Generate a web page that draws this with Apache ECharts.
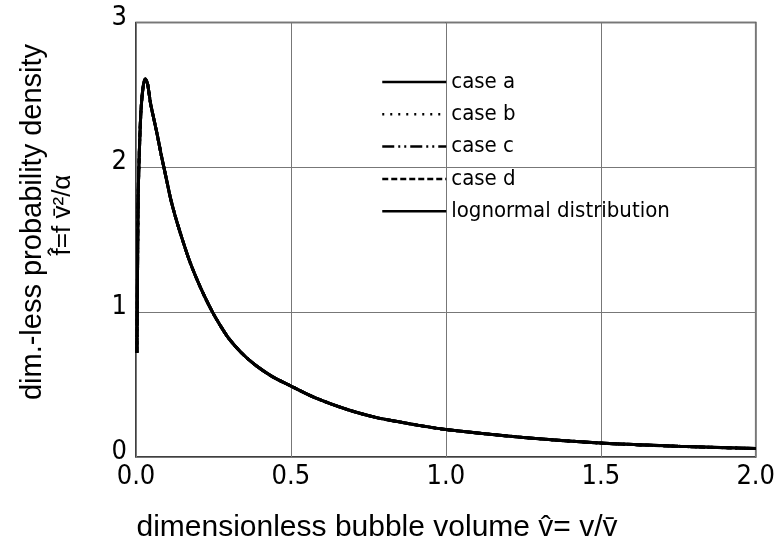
<!DOCTYPE html>
<html>
<head>
<meta charset="utf-8">
<script src="https://cdn.jsdelivr.net/npm/echarts@6/dist/echarts.min.js"></script>
<style>
  html, body { margin: 0; padding: 0; background: #fff; }
  #chart { width: 778px; height: 550px; }
</style>
</head>
<body>
<div id="chart"></div>
<script>
// 读图所得数据：横轴为无量纲气泡体积，纵轴为无量纲概率密度
const volume = [0.003, 0.005, 0.007, 0.010, 0.014, 0.018, 0.024, 0.030, 0.037, 0.047,
  0.058, 0.070, 0.080, 0.090, 0.100, 0.112, 0.127, 0.144, 0.17, 0.192, 0.22, 0.247,
  0.27, 0.299, 0.34, 0.385, 0.44, 0.5, 0.577, 0.684, 0.78, 0.844, 0.908, 1.0,
  1.25, 1.5, 1.75, 2.0];

// 四个算例与对数正态分布在图上完全重合，读出的数值相同
const density = [0.72, 1.3, 1.8, 2.05, 2.3, 2.45, 2.57, 2.61, 2.58, 2.44,
  2.33, 2.21, 2.10, 2.00, 1.90, 1.78, 1.66, 1.54, 1.37, 1.25, 1.115, 1.0,
  0.915, 0.82, 0.72, 0.635, 0.555, 0.49, 0.41, 0.326, 0.27, 0.245, 0.22, 0.19,
  0.135, 0.096, 0.074, 0.058];

const caseA = density;
const caseB = density;
const caseC = density;
const caseD = density;
const lognormal = density;

const legendNames = ['case a', 'case b', 'case c', 'case d', 'lognormal distribution'];
const yTicks = [0, 1, 2, 3];

const NUM_FONT = '"Liberation Sans Narrow", "DejaVu Sans Condensed", "Liberation Sans", sans-serif';
const TITLE_FONT = '"Liberation Sans", Arial, sans-serif';

function pairs(ys) {
  return volume.map((x, i) => [x, ys[i]]);
}

function lineSeries(name, ys, type) {
  return {
    name: name,
    type: 'line',
    data: pairs(ys),
    symbol: 'none',
    smooth: 0.3,
    lineStyle: { color: '#000', width: 3, type: type },
    itemStyle: { color: '#000' },
    z: 3,
  };
}

const chart = echarts.init(document.getElementById('chart'), null, { renderer: 'canvas' });

chart.setOption({
  animation: false,
  backgroundColor: '#fff',
  grid: { left: 136, right: 16, top: 22.5, bottom: 93, show: true, borderColor: '#000', borderWidth: 1.5, backgroundColor: 'transparent' },
  xAxis: {
    type: 'value',
    min: 0, max: 2, interval: 0.5,
    axisLine: { show: false },
    axisTick: { show: false },
    splitLine: { show: true, lineStyle: { color: '#777', width: 1 } },
    axisLabel: {
      fontFamily: NUM_FONT, fontSize: 27, color: '#000', margin: 6,
      formatter: v => v.toFixed(1),
    },
  },
  yAxis: {
    type: 'value',
    min: 0, max: 3, interval: 1,
    axisLine: { show: false },
    axisTick: { show: false },
    splitLine: { show: true, lineStyle: { color: '#777', width: 1 } },
    axisLabel: {
      fontFamily: NUM_FONT, fontSize: 27, color: '#000', margin: 9,
      verticalAlign: 'bottom', lineHeight: 10,
      formatter: v => (yTicks.indexOf(v) >= 0 ? String(v) : ''),
    },
  },
  legend: {
    orient: 'vertical',
    left: 376, top: 66,
    itemWidth: 64, itemHeight: 14, itemGap: 10.3,
    selectedMode: false,
    itemStyle: { opacity: 0 },
    lineStyle: { width: 2.5 },
    textStyle: { fontFamily: NUM_FONT, fontSize: 22, color: '#000' },
    data: legendNames,
  },
  series: [
    lineSeries(legendNames[0], caseA, 'solid'),
    lineSeries(legendNames[1], caseB, [2, 6]),
    lineSeries(legendNames[2], caseC, [12, 4, 2, 4, 2, 4]),
    lineSeries(legendNames[3], caseD, [6, 3]),
    lineSeries(legendNames[4], lognormal, 'solid'),
  ],
  graphic: [
    {
      type: 'text', rotation: Math.PI / 2,
      style: { text: 'dim.-less probability density', font: '29px ' + TITLE_FONT, fill: '#000', align: 'center', verticalAlign: 'middle' },
      x: 33, y: 222,
    },
    {
      type: 'text', rotation: Math.PI / 2,
      style: { text: 'f\u0302=f v\u0304\u00b2/\u03b1', font: '26px ' + TITLE_FONT, fill: '#000', align: 'center', verticalAlign: 'middle' },
      x: 63, y: 215,
    },
    {
      type: 'text',
      style: { text: 'dimensionless bubble volume v\u0302= v/v\u0304', font: '30px ' + TITLE_FONT, fill: '#000', align: 'center', verticalAlign: 'middle' },
      x: 377, y: 528,
    },
  ],
});
</script>
</body>
</html>
